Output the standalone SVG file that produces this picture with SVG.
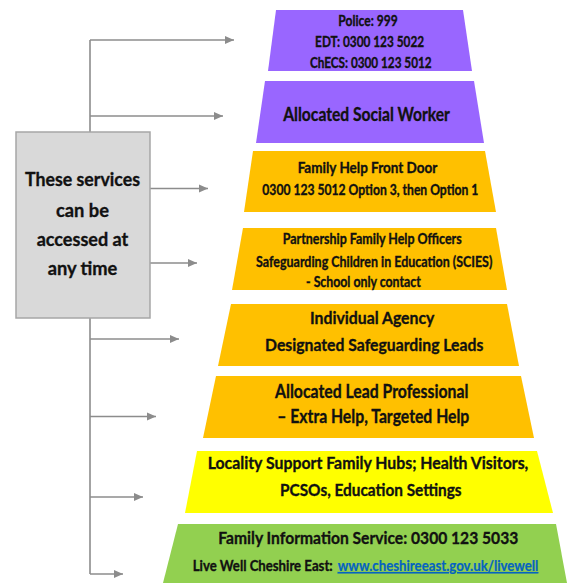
<svg xmlns="http://www.w3.org/2000/svg" width="569" height="583" viewBox="0 0 569 583">
<style>
text{font-family:Lato,"Liberation Sans",sans-serif;font-weight:bold;fill:#111;stroke:#111;stroke-width:0.35;text-anchor:middle}
.purple{fill:#9966FF}
.orange{fill:#FFC000}
.yellow{fill:#FFFF00}
.green{fill:#92D050}
.conn{fill:none;stroke:#8C8C8C;stroke-width:1.6;marker-end:url(#arr)}
.trunk{fill:none;stroke:#8C8C8C;stroke-width:1.6}
.s13{font-size:14.5px}
.s15{font-size:16px}
.s16{font-size:17.5px}
.s17{font-size:18.5px}
.s18{font-size:19.5px}
.sbox{font-size:19px}
.link{fill:#0563C1;stroke:#0563C1;stroke-width:0.2;text-decoration:underline;text-anchor:start}
</style>
<defs>
<marker id="arr" markerUnits="userSpaceOnUse" markerWidth="9" markerHeight="9" viewBox="0 0 9 9" refX="9" refY="4.5" orient="auto">
<path d="M0,0.5 L9,4.5 L0,8.5 Z" fill="#8C8C8C"/>
</marker>
</defs>
<rect width="569" height="583" fill="#FFFFFF"/>
<g id="connectors">
<path class="trunk" d="M90,40 V132"/>
<path class="trunk" d="M90,318 V574"/>
<path class="conn" d="M90,40 H234"/>
<path class="conn" d="M90,116 H223"/>
<path class="conn" d="M150,188.5 H208"/>
<path class="conn" d="M150,263 H197"/>
<path class="conn" d="M90,339 H179"/>
<path class="conn" d="M90,416.5 H156"/>
<path class="conn" d="M90,497 H143"/>
<path class="conn" d="M90,574 H123"/>
</g>
<g id="any-time">
<rect x="16" y="132" width="134" height="186" fill="#D9D9D9" stroke="#A6A6A6" stroke-width="1.5"/>
<text class="sbox" x="82.5" y="186" textLength="115" lengthAdjust="spacingAndGlyphs">These services</text>
<text class="sbox" x="82.5" y="216.5" textLength="53" lengthAdjust="spacingAndGlyphs">can be</text>
<text class="sbox" x="82.5" y="246" textLength="91.7" lengthAdjust="spacingAndGlyphs">accessed at</text>
<text class="sbox" x="82.5" y="275" textLength="69.7" lengthAdjust="spacingAndGlyphs">any time</text>
</g>
<g id="emergency">
<polygon class="purple" points="276,10 463,10 472,71 268,71"/>
<text class="s13" x="368" y="26" textLength="59.3" lengthAdjust="spacingAndGlyphs">Police: 999</text>
<text class="s13" x="369.6" y="47" textLength="109" lengthAdjust="spacingAndGlyphs">EDT: 0300 123 5022</text>
<text class="s13" x="370.8" y="68" textLength="121.7" lengthAdjust="spacingAndGlyphs">ChECS: 0300 123 5012</text>
</g>
<g id="social-worker">
<polygon class="purple" points="265,81 474,81 484,143 256,143"/>
<text class="s18" x="366.6" y="121" textLength="166.7" lengthAdjust="spacingAndGlyphs">Allocated Social Worker</text>
</g>
<g id="front-door">
<polygon class="orange" points="253,151 485,151 496,212 244,212"/>
<text class="s15" x="367.5" y="172.5" textLength="139.7" lengthAdjust="spacingAndGlyphs">Family Help Front Door</text>
<text class="s13" x="370.3" y="195" textLength="216" lengthAdjust="spacingAndGlyphs">0300 123 5012 Option 3, then Option 1</text>
</g>
<g id="partnership">
<polygon class="orange" points="243,228 496,228 507,290 232,290"/>
<text class="s13" x="372.2" y="244" textLength="179" lengthAdjust="spacingAndGlyphs">Partnership Family Help Officers</text>
<text class="s13" x="374.2" y="266.7" textLength="236.3" lengthAdjust="spacingAndGlyphs">Safeguarding Children in Education (SCIES)</text>
<text class="s13" x="363.4" y="287.3" textLength="114.7" lengthAdjust="spacingAndGlyphs">- School only contact</text>
</g>
<g id="dsl">
<polygon class="orange" points="231,304 507,304 519,366 218,366"/>
<text class="s16" x="372.2" y="324.3" textLength="124.3" lengthAdjust="spacingAndGlyphs">Individual Agency</text>
<text class="s16" x="374.2" y="351" textLength="218.3" lengthAdjust="spacingAndGlyphs">Designated Safeguarding Leads</text>
</g>
<g id="lead-professional">
<polygon class="orange" points="216,376 521,376 534,438 203,438"/>
<text class="s17" x="371.7" y="397.7" textLength="193.3" lengthAdjust="spacingAndGlyphs">Allocated Lead Professional</text>
<text class="s17" x="373.3" y="423.3" textLength="192" lengthAdjust="spacingAndGlyphs">– Extra Help, Targeted Help</text>
</g>
<g id="locality">
<polygon class="yellow" points="197,451 537,451 553,513 185,513"/>
<text class="s16" x="368" y="469.3" textLength="320.7" lengthAdjust="spacingAndGlyphs">Locality Support Family Hubs; Health Visitors,</text>
<text class="s16" x="370.8" y="496" textLength="181.7" lengthAdjust="spacingAndGlyphs">PCSOs, Education Settings</text>
</g>
<g id="family-info">
<polygon class="green" points="178,524 556,524 567,583 163,583"/>
<text class="s16" x="368.3" y="544.3" textLength="300" lengthAdjust="spacingAndGlyphs">Family Information Service: 0300 123 5033</text>
<text class="s13" x="192.7" y="571" style="text-anchor:start" textLength="140" lengthAdjust="spacingAndGlyphs">Live Well Cheshire East:</text>
<text class="s13 link" x="337.7" y="571" textLength="200.7" lengthAdjust="spacingAndGlyphs">www.cheshireeast.gov.uk/livewell</text>
</g>
</svg>
